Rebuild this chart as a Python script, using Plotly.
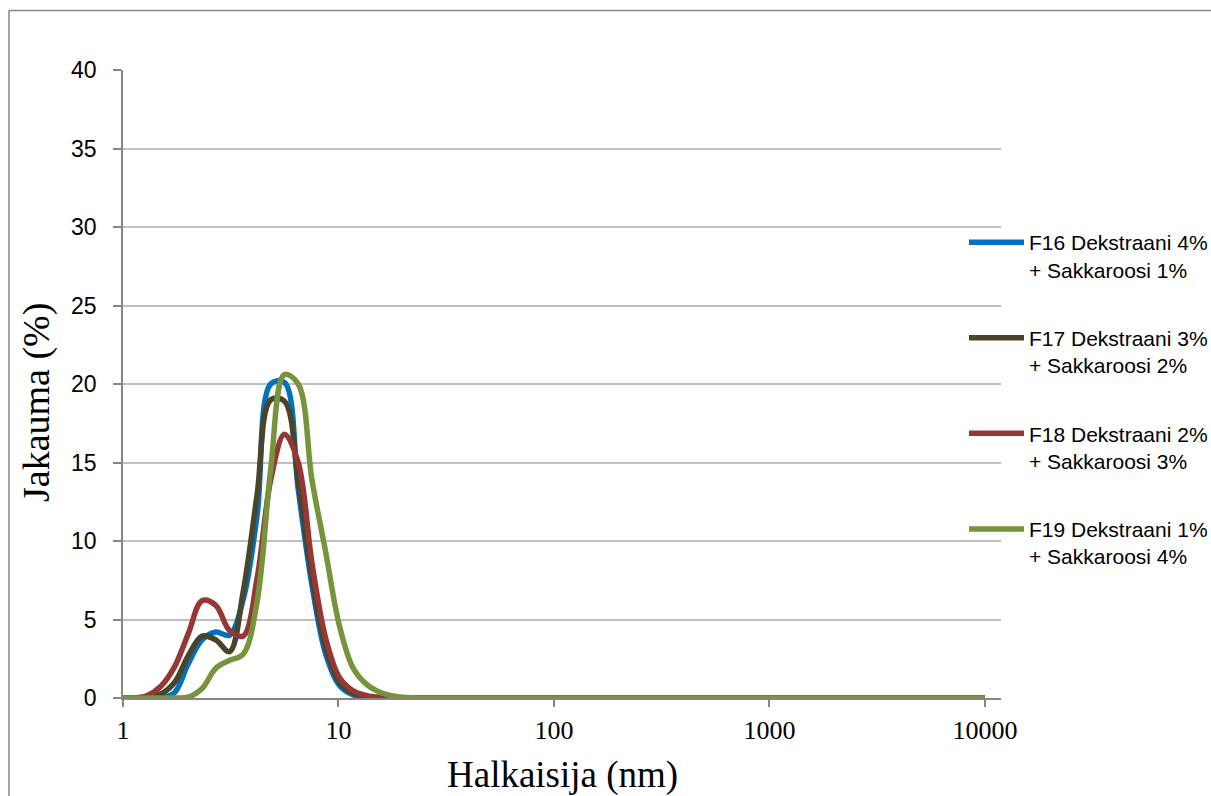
import plotly.graph_objects as go

# Hydrodynamic diameter bins (nm)
diameter = [0.9649, 1.117, 1.294, 1.499, 1.736, 2.01, 2.328, 2.696, 3.122, 3.615,
            4.187, 4.849, 5.615, 6.503, 7.531, 8.721, 10.1, 11.7, 13.54, 15.69,
            18.17, 21.04, 24.36, 28.21, 32.67, 37.84, 43.82, 50.75, 58.77, 68.06,
            78.82, 91.28, 105.7, 122.4, 141.8, 164.2, 190.1, 220.2, 255.0, 295.3,
            342.0, 396.1, 458.7, 531.2, 615.1, 712.4, 825.0, 955.4, 1106, 1281,
            1484, 1718, 1990, 2305, 2669, 3091, 3580, 4145, 4801, 5560,
            6439, 7456, 8635, 10000]

f16 = [0, 0, 0, 0, 0.35, 2.2, 3.7, 4.2, 4.0, 6.3,
       11.6, 20.0, 20.1, 13.3, 7.2, 2.8, 0.8, 0.2, 0.05, 0,
       0, 0, 0, 0, 0, 0, 0, 0, 0, 0,
       0, 0, 0, 0, 0, 0, 0, 0, 0, 0,
       0, 0, 0, 0, 0, 0, 0, 0, 0, 0,
       0, 0, 0, 0, 0, 0, 0, 0, 0, 0,
       0, 0, 0, 0]
f17 = [0, 0, 0.05, 0.25, 1.0, 2.7, 3.95, 3.7, 2.95, 6.8,
       12.9, 19.0, 18.9, 13.8, 7.7, 3.2, 1.0, 0.3, 0.08, 0.02,
       0, 0, 0, 0, 0, 0, 0, 0, 0, 0,
       0, 0, 0, 0, 0, 0, 0, 0, 0, 0,
       0, 0, 0, 0, 0, 0, 0, 0, 0, 0,
       0, 0, 0, 0, 0, 0, 0, 0, 0, 0,
       0, 0, 0, 0]
f18 = [0, 0, 0.15, 0.75, 2.0, 4.1, 6.2, 5.9, 4.3, 3.95,
       7.6, 13.9, 16.8, 15.0, 8.6, 3.8, 1.3, 0.45, 0.15, 0.04,
       0, 0, 0, 0, 0, 0, 0, 0, 0, 0,
       0, 0, 0, 0, 0, 0, 0, 0, 0, 0,
       0, 0, 0, 0, 0, 0, 0, 0, 0, 0,
       0, 0, 0, 0, 0, 0, 0, 0, 0, 0,
       0, 0, 0, 0]
f19 = [0, 0, 0, 0, 0, 0.05, 0.6, 1.9, 2.4, 2.8,
       6.1, 14.6, 20.6, 20.0, 13.9, 9.3, 4.6, 1.9, 0.85, 0.35,
       0.12, 0.03, 0, 0, 0, 0, 0, 0, 0, 0,
       0, 0, 0, 0, 0, 0, 0, 0, 0, 0,
       0, 0, 0, 0, 0, 0, 0, 0, 0, 0,
       0, 0, 0, 0, 0, 0, 0, 0, 0, 0,
       0, 0, 0, 0]

names = ["F16 Dekstraani 4%<br>+ Sakkaroosi 1%",
         "F17 Dekstraani 3%<br>+ Sakkaroosi 2%",
         "F18 Dekstraani 2%<br>+ Sakkaroosi 3%",
         "F19 Dekstraani 1%<br>+ Sakkaroosi 4%"]
colors = ["#0070C0", "#4A452A", "#953735", "#77933C"]
series = [f16, f17, f18, f19]

x_ticks = [1, 10, 100, 1000, 10000]
x_ticktext = ["1", "10", "100", "1000", "10000"]
y_ticks = [0, 5, 10, 15, 20, 25, 30, 35, 40]

fig = go.Figure()
for i, (nm, col, ys) in enumerate(zip(names, colors, series)):
    fig.add_trace(go.Scatter(
        x=diameter, y=ys, mode="lines", name=nm,
        legendgroup=f"g{i}",
        line=dict(color=col, width=5.5, shape="spline", smoothing=1.0),
    ))

W, H = 1211, 796
L, R, T, B = 123, 1211 - 1001, 70, 796 - 698
pw, ph = W - L - R, H - T - B


def px(xp):
    return (xp - L) / pw


def py(yp):
    return (H - B - yp) / ph


fig.update_layout(
    width=W, height=H,
    margin=dict(l=L, r=R, t=T, b=B, autoexpand=False),
    paper_bgcolor="white", plot_bgcolor="white",
    showlegend=True,
    legend=dict(
        x=px(964), y=py(222), xanchor="left", yanchor="top",
        font=dict(family="Liberation Sans", size=21, color="black"),
        valign="top", tracegroupgap=38, itemwidth=55,
        bgcolor="rgba(0,0,0,0)",
    ),
    xaxis=dict(
        type="log", range=[0, 4.0745],
        tickvals=x_ticks, ticktext=x_ticktext,
        showgrid=False, zeroline=False,
        showline=True, linecolor="#868686", linewidth=1.5,
        ticks="outside", ticklen=7, tickcolor="#868686", tickwidth=1.5,
        tickfont=dict(family="Liberation Serif", size=26, color="black"),
        ticklabelstandoff=1,
    ),
    yaxis=dict(
        range=[0, 40], tickvals=y_ticks,
        showgrid=True, gridcolor="#BFBFBF", gridwidth=1.5,
        zeroline=False,
        showline=True, linecolor="#868686", linewidth=1.5,
        ticks="outside", ticklen=8, tickcolor="#868686", tickwidth=1.5,
        tickfont=dict(family="Liberation Sans", size=23, color="black"),
        ticklabelstandoff=12,
    ),
    annotations=[
        dict(text="Halkaisija (nm)", xref="paper", yref="paper",
             x=0.5, y=py(775), xanchor="center", yanchor="middle",
             showarrow=False,
             font=dict(family="Liberation Serif", size=37, color="black")),
        dict(text="Jakauma (%)", xref="paper", yref="paper",
             x=px(37), y=py(403), xanchor="center", yanchor="middle",
             textangle=-90, showarrow=False,
             font=dict(family="Liberation Serif", size=38, color="black")),
    ],
    shapes=[
        dict(type="line", xref="paper", yref="paper",
             x0=px(9), x1=px(1211), y0=py(10.5), y1=py(10.5),
             line=dict(color="#868686", width=1.5)),
        dict(type="line", xref="paper", yref="paper",
             x0=px(9), x1=px(9), y0=py(10.5), y1=py(800),
             line=dict(color="#868686", width=1.5)),
    ],
)

fig.write_html("out.html")
